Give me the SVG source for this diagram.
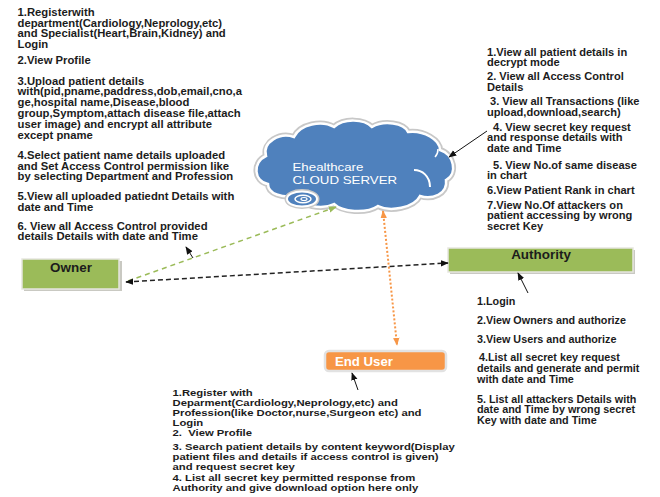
<svg xmlns="http://www.w3.org/2000/svg" width="660" height="497" viewBox="0 0 660 497">
<style>
.t{font-family:"Liberation Sans",Arial,sans-serif;font-size:10px;font-weight:bold;fill:#1c1c1c}
.s{font-size:9px}
.lbl{font-family:"Liberation Sans",Arial,sans-serif;font-size:12px;font-weight:bold}
.cl{font-family:"Liberation Sans",Arial,sans-serif;font-size:11px;fill:#ffffff}
.box{stroke:#e6e6e0;stroke-width:1.5}
.sh{fill:#c9c9c2}
</style>
<defs>
<marker id="mk" viewBox="0 0 10 10" refX="9" refY="5" markerUnits="userSpaceOnUse" markerWidth="8" markerHeight="8" orient="auto-start-reverse"><path d="M0,1 L10,5 L0,9 z" fill="#111"/></marker>
<marker id="mg" viewBox="0 0 10 10" refX="9" refY="5" markerUnits="userSpaceOnUse" markerWidth="8" markerHeight="8" orient="auto-start-reverse"><path d="M0,1 L10,5 L0,9 z" fill="#9BBB59"/></marker>
<marker id="mo" viewBox="0 0 10 10" refX="9" refY="5" markerUnits="userSpaceOnUse" markerWidth="8" markerHeight="8" orient="auto-start-reverse"><path d="M0,1 L10,5 L0,9 z" fill="#F79646"/></marker>
<path id="cshape" d="M 268,184 C 254,182 252,162 266,156 C 262,142 280,132 294,137 C 300,124 322,120 334,127 C 344,118 364,119 372,127 C 384,120 404,123 408,132 C 424,130 440,140 440,150 C 454,154 458,174 446,180 C 448,194 432,200 420,196 C 414,208 390,212 378,206 C 366,214 342,212 334,204 C 322,210 300,206 296,196 C 282,198 268,194 268,184 Z"/>
</defs>
<rect width="660" height="497" fill="#ffffff"/>

<g id="cloud">
<use href="#cshape" fill="#4F81BD" stroke="#c8c8c8" stroke-width="6"/>
<use href="#cshape" fill="#4F81BD" stroke="#ffffff" stroke-width="2.5"/>
<path d="M 414,170 C 422,170 430,176 430,187" fill="none" stroke="#ffffff" stroke-width="2"/>
<path d="M 438,149 C 438,152 437,155 435,157" fill="none" stroke="#ffffff" stroke-width="1.5"/>
<ellipse cx="302" cy="199" rx="15" ry="7.5" fill="#4F81BD" stroke="#c8c8c8" stroke-width="5"/>
<ellipse cx="302" cy="199" rx="15" ry="7.5" fill="#4F81BD" stroke="#ffffff" stroke-width="2"/>
<ellipse cx="303" cy="199" rx="8" ry="3.8" fill="none" stroke="#ffffff" stroke-width="1.5"/>
<ellipse cx="304" cy="199" rx="3" ry="1.5" fill="none" stroke="#ffffff" stroke-width="1.2"/>
<g transform="translate(292.5,0) scale(1.21,1)">
<text class="cl" x="0" y="171.5">Ehealthcare</text>
<text class="cl" x="0" y="183.8">CLOUD SERVER</text>
</g>
</g>

<g id="owner">
<rect x="24" y="261" width="98" height="30" class="sh"/>
<rect x="22" y="259" width="97" height="30" fill="#9BBB59" class="box"/>
<g transform="translate(71,0) scale(1.12,1)"><text class="lbl" x="0" y="272" text-anchor="middle" fill="#1c1c1c">Owner</text></g>
</g>

<g id="authority">
<rect x="450" y="250" width="185" height="24" class="sh"/>
<rect x="448" y="248" width="185" height="24" fill="#9BBB59" class="box"/>
<g transform="translate(541,0) scale(1.12,1)"><text class="lbl" x="0" y="259.5" text-anchor="middle" fill="#1c1c1c">Authority</text></g>
</g>

<g id="enduser">
<rect x="325" y="351" width="121" height="20" rx="4" fill="#F79646" stroke="#e2e2e2" stroke-width="2.5"/>
<g transform="translate(335,0) scale(1.1,1)"><text class="lbl" x="0" y="366" fill="#ffffff">End User</text></g>
</g>

<g id="connectors" fill="none">
<line x1="128" y1="281" x2="336" y2="207" stroke="#9BBB59" stroke-width="1.5" stroke-dasharray="5,4" marker-end="url(#mg)"/>
<line x1="126" y1="282" x2="448" y2="263" stroke="#222" stroke-width="1.5" stroke-dasharray="5,3" marker-start="url(#mk)" marker-end="url(#mk)"/>
<line x1="383" y1="211" x2="397" y2="345" stroke="#F79646" stroke-width="2" stroke-dasharray="2,2" marker-start="url(#mo)" marker-end="url(#mo)"/>
<line x1="193" y1="258" x2="186" y2="247" stroke="#111" stroke-width="1" marker-end="url(#mk)"/>
<line x1="487" y1="131" x2="449" y2="157" stroke="#111" stroke-width="1" marker-end="url(#mk)"/>
<line x1="528" y1="293" x2="518" y2="273" stroke="#111" stroke-width="1" marker-end="url(#mk)"/>
<line x1="358" y1="390" x2="352" y2="373" stroke="#111" stroke-width="1" marker-end="url(#mk)"/>
</g>

<g id="owner-text" transform="translate(17.5,0) scale(1.13,1)">
<text class="t" x="0" y="16">1.Registerwith</text>
<text class="t" x="0" y="27">department(Cardiology,Neprology,etc)</text>
<text class="t" x="0" y="37.5">and Specialist(Heart,Brain,Kidney) and</text>
<text class="t" x="0" y="48">Login</text>
<text class="t" x="0" y="64">2.View Profile</text>
<text class="t" x="0" y="85">3.Upload patient details</text>
<text class="t" x="0" y="95.5">with(pid,pname,paddress,dob,email,cno,a</text>
<text class="t" x="0" y="106">ge,hospital name,Disease,blood</text>
<text class="t" x="0" y="117">group,Symptom,attach disease file,attach</text>
<text class="t" x="0" y="128">user image) and encrypt  all attribute</text>
<text class="t" x="0" y="139">except pname</text>
<text class="t" x="0" y="159.5">4.Select patient name details uploaded</text>
<text class="t" x="0" y="170">and  Set Access Control permission like</text>
<text class="t" x="0" y="180.5">by selecting Department and Profession</text>
<text class="t" x="0" y="200.5">5.View all uploaded patiednt Details with</text>
<text class="t" x="0" y="211">date and Time</text>
<text class="t" x="0" y="230">6. View all Access Control provided</text>
<text class="t" x="0" y="240.5">details Details with date and Time</text>
</g>

<g id="cloud-text" transform="translate(487,0) scale(1.11,1)">
<text class="t" x="0" y="56">1.View all patient details in</text>
<text class="t" x="0" y="66">decrypt mode</text>
<text class="t" x="0" y="80">2. View all Access Control</text>
<text class="t" x="0" y="91">Details</text>
<text class="t" x="2.7" y="105.5">3. View all Transactions (like</text>
<text class="t" x="0" y="116.5">upload,download,search)</text>
<text class="t" x="5.4" y="131">4. View secret key request</text>
<text class="t" x="0" y="141.5">and response details with</text>
<text class="t" x="0" y="152">date and Time</text>
<text class="t" x="5.4" y="169">5. View No.of same disease</text>
<text class="t" x="0" y="179.5">in chart</text>
<text class="t" x="0" y="194.5">6.View Patient Rank in chart</text>
<text class="t" x="0" y="209">7.View No.Of attackers on</text>
<text class="t" x="0" y="219.5">patient accessing by wrong</text>
<text class="t" x="0" y="230">secret Key</text>
</g>

<g id="authority-text" transform="translate(477,0) scale(1.08,1)">
<text class="t" x="0" y="305">1.Login</text>
<text class="t" x="0" y="324">2.View Owners and authorize</text>
<text class="t" x="0" y="343">3.View Users and authorize</text>
<text class="t" x="1.9" y="361.5">4.List all secret key request</text>
<text class="t" x="0" y="372.5">details and generate and permit</text>
<text class="t" x="0" y="383">with date and Time</text>
<text class="t" x="0" y="403">5. List all attackers Details with</text>
<text class="t" x="0" y="413.5">date and Time by wrong secret</text>
<text class="t" x="0" y="424">Key with date and Time</text>
</g>

<g id="enduser-text" transform="translate(172.5,0) scale(1.255,1)">
<text class="t s" x="0" y="396.5">1.Register with</text>
<text class="t s" x="0" y="406.3">Deparment(Cardiology,Neprology,etc) and</text>
<text class="t s" x="0" y="416">Profession(like Doctor,nurse,Surgeon etc) and</text>
<text class="t s" x="0" y="425.7">Login</text>
<text class="t s" x="0" y="436.5" xml:space="preserve">2.  View Profile</text>
<text class="t s" x="0" y="450.3">3. Search patient details by content keyword(Display</text>
<text class="t s" x="0" y="460">patient files and details if access control is given)</text>
<text class="t s" x="0" y="469.7">and request secret key</text>
<text class="t s" x="0" y="481.5">4. List all secret key permitted response from</text>
<text class="t s" x="0" y="491.2">Authority and give download option here only</text>
</g>
</svg>
